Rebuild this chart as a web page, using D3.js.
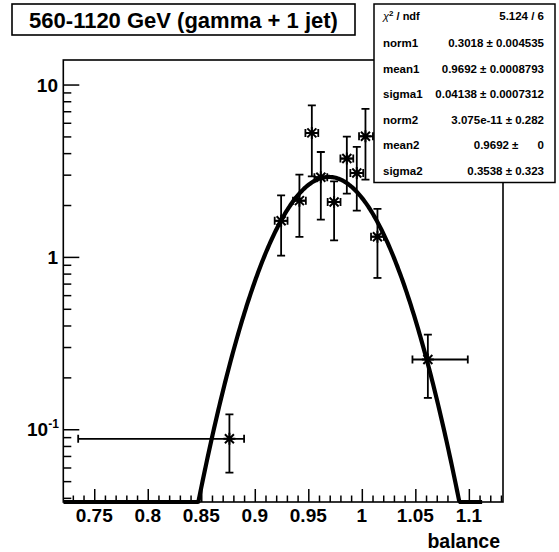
<!DOCTYPE html>
<html><head><meta charset="utf-8">
<script src="https://cdn.jsdelivr.net/npm/d3@7"></script>
<style>
html,body{margin:0;padding:0;background:#fff;}
text{font-family:"Liberation Sans",Arial,Helvetica,sans-serif;font-weight:bold;fill:#000;}
</style></head>
<body>
<svg id="c" width="559" height="552"></svg>
<script>
// ---- data ----
const title = "560-1120 GeV (gamma + 1 jet)";
const xTitle = "balance";
const xTickLabels = ["0.75","0.8","0.85","0.9","0.95","1","1.05","1.1"];
const xMajor = [0.75,0.8,0.85,0.9,0.95,1.0,1.05,1.1];
const xMinor = [0.73,0.74,0.76,0.77,0.78,0.79,0.81,0.82,0.83,0.84,0.86,0.87,0.88,0.89,0.91,0.92,0.93,0.94,0.96,0.97,0.98,0.99,1.01,1.02,1.03,1.04,1.06,1.07,1.08,1.09,1.11,1.12,1.13];
const yMajor = [0.1,1,10];
const yMinor = [0.04,0.05,0.06,0.07,0.08,0.09,0.2,0.3,0.4,0.5,0.6,0.7,0.8,0.9,2,3,4,5,6,7,8,9];

const ptX     = [0.8763,0.9246,0.9417,0.9533,0.9617,0.9741,0.9860,0.9953,1.0034,1.0146,1.0617];
const ptY     = [0.088, 1.62,  2.12,  5.24,  2.90,  2.08,  3.72,  3.07,  5.01,  1.31,  0.254];
const ptEyLow = [0.032, 0.603, 0.814, 2.31,  1.255, 0.832, 1.39,  1.214, 2.20,  0.555, 0.102];
const ptEyHigh= [0.034, 0.656, 0.880, 2.33,  1.16,  0.665, 1.27,  1.28,  2.21,  0.588, 0.100];
const ptExLow = [0.1413,0.006, 0.006, 0.006, 0.006, 0.006, 0.006, 0.006, 0.006, 0.006, 0.0144];
const ptExHigh= [0.0137,0.006, 0.006, 0.006, 0.006, 0.006, 0.006, 0.006, 0.007, 0.006, 0.0373];

// fit parameters (stats box)
const statLabels = ["norm1","mean1","sigma1","norm2","mean2","sigma2"];
const statValues = ["0.3018 \u00b1 0.004535","0.9692 \u00b1 0.0008793","0.04138 \u00b1 0.0007312","3.075e-11 \u00b1 0.282","0.9692 \u00b1      0","0.3538 \u00b1 0.323"];
const chi2Text = "5.124 / 6";
const fitPar = [0.3018,0.9692,0.04138,3.075e-11,0.9692,0.3538];
const fitRange = [0.7211,1.1124];

// ---- layout ----
const svg = d3.select("#c");
const L=63.3, R=503, T=60, B=502;
const x = d3.scaleLinear().domain([0.7211,1.1319]).range([L,R]);
const y = d3.scaleLog().domain([0.03784,13.88]).range([B,T]);

svg.append("rect").attr("width",559).attr("height",552).attr("fill","#fff");

// axes ticks
const gx = svg.append("g").attr("transform",`translate(0,${B})`);
gx.call(d3.axisBottom(x).tickValues(xMajor).tickSize(-13).tickFormat(""));
gx.append("g").call(d3.axisBottom(x).tickValues(xMinor).tickSize(-6.5).tickFormat(""));
gx.selectAll("path.domain").remove();
gx.selectAll("line").attr("stroke","#000").attr("stroke-width",1.5);

const gy = svg.append("g").attr("transform",`translate(${L},0)`);
gy.call(d3.axisLeft(y).tickValues(yMajor).tickSize(-16).tickFormat(""));
gy.append("g").call(d3.axisLeft(y).tickValues(yMinor).tickSize(-8).tickFormat(""));
gy.selectAll("path.domain").remove();
gy.selectAll("line").attr("stroke","#000").attr("stroke-width",1.5);

// frame
svg.append("rect").attr("x",L).attr("y",T).attr("width",R-L).attr("height",B-T)
  .attr("fill","none").attr("stroke","#000").attr("stroke-width",1.6);

// x tick labels
svg.append("g").selectAll("text").data(xMajor).join("text")
  .attr("x",d=>x(d)).attr("y",522).attr("text-anchor","middle").attr("font-size",19)
  .text((d,i)=>xTickLabels[i]);
svg.append("text").attr("x",500).attr("y",548).attr("text-anchor","end").attr("font-size",19.5).text(xTitle);

// y tick labels
svg.append("text").attr("x",58).attr("y",y(10)+7).attr("text-anchor","end").attr("font-size",19).text("10");
svg.append("text").attr("x",58).attr("y",y(1)+7).attr("text-anchor","end").attr("font-size",19).text("1");
const t01 = svg.append("text").attr("x",27).attr("y",y(0.1)+7).attr("font-size",19);
t01.append("tspan").text("10");
t01.append("tspan").attr("dy",-8).attr("font-size",12).text("-1");

// clip
svg.append("clipPath").attr("id","clip").append("rect").attr("x",L).attr("y",T-2).attr("width",R-L).attr("height",B-T+4);
const plot = svg.append("g").attr("clip-path","url(#clip)");

// error bars
const pts = ptX.map((v,i)=>({x:v,y:ptY[i],yl:ptY[i]-ptEyLow[i],yh:ptY[i]+ptEyHigh[i],xl:v-ptExLow[i],xh:v+ptExHigh[i]}));
const eb = plot.append("g").attr("stroke","#000").attr("stroke-width",1.8).attr("fill","none");
pts.forEach(p=>{
  const px=x(p.x), py=y(p.y);
  eb.append("line").attr("x1",px).attr("x2",px).attr("y1",y(p.yl)).attr("y2",y(p.yh));
  eb.append("line").attr("x1",px-4).attr("x2",px+4).attr("y1",y(p.yl)).attr("y2",y(p.yl));
  eb.append("line").attr("x1",px-4).attr("x2",px+4).attr("y1",y(p.yh)).attr("y2",y(p.yh));
  eb.append("line").attr("x1",x(p.xl)).attr("x2",x(p.xh)).attr("y1",py).attr("y2",py);
  eb.append("line").attr("x1",x(p.xl)).attr("x2",x(p.xl)).attr("y1",py-4).attr("y2",py+4);
  eb.append("line").attr("x1",x(p.xh)).attr("x2",x(p.xh)).attr("y1",py-4).attr("y2",py+4);
  // star marker
  const s=6, d=4.5;
  eb.append("path").attr("stroke-width",2)
    .attr("d",`M${px-s},${py}L${px+s},${py}M${px},${py-s}L${px},${py+s}M${px-d},${py-d}L${px+d},${py+d}M${px-d},${py+d}L${px+d},${py-d}`);
});

// fit curve
const fitF = v => fitPar[0]/(Math.sqrt(2*Math.PI)*fitPar[2])*Math.exp(-0.5*Math.pow((v-fitPar[1])/fitPar[2],2))
               + fitPar[3]/(Math.sqrt(2*Math.PI)*fitPar[5])*Math.exp(-0.5*Math.pow((v-fitPar[4])/fitPar[5],2));
const ymin = y.domain()[0];
const fx = d3.range(0,401).map(i=>fitRange[0]+(fitRange[1]-fitRange[0])*i/400);
plot.append("path").datum(fx)
  .attr("d",d3.line().x(v=>x(v)).y(v=>y(Math.max(ymin,fitF(v)))))
  .attr("fill","none").attr("stroke","#000").attr("stroke-width",4.2).attr("stroke-linejoin","round");

// title box
svg.append("rect").attr("x",12).attr("y",4).attr("width",343).attr("height",31)
  .attr("fill","#fff").attr("stroke","#000").attr("stroke-width",1.6);
svg.append("text").attr("x",183.5).attr("y",27.5).attr("text-anchor","middle").attr("font-size",22).text(title);

// stats box
svg.append("rect").attr("x",374).attr("y",4).attr("width",181).attr("height",178.5)
  .attr("fill","#fff").attr("stroke","#000").attr("stroke-width",1.5);
const rowY = [16,43,68.5,94,119.5,145,170.5];
const chi = svg.append("text").attr("x",383).attr("y",rowY[0]+4).attr("font-size",11);
chi.append("tspan").attr("font-weight","normal").attr("font-style","italic").text("\u03c7");
chi.append("tspan").attr("dy",-4).attr("font-size",8).text("2");
chi.append("tspan").attr("dy",4).text(" / ndf");
svg.append("text").attr("x",544).attr("y",rowY[0]+4).attr("text-anchor","end").attr("font-size",11.5).text(chi2Text);
statLabels.forEach((l,i)=>{
  svg.append("text").attr("x",383).attr("y",rowY[i+1]+4).attr("font-size",11.5).text(l);
  svg.append("text").attr("x",544).attr("y",rowY[i+1]+4).attr("text-anchor","end").attr("font-size",11.5)
    .style("white-space","pre").text(statValues[i]);
});
</script>
</body></html>
